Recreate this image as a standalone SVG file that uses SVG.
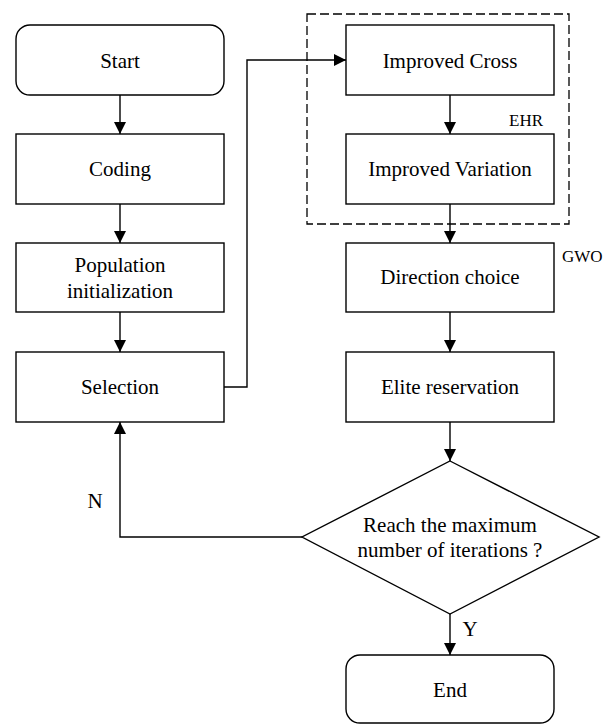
<svg xmlns="http://www.w3.org/2000/svg" width="603" height="724" viewBox="0 0 603 724">
<defs>
<style>
.box{fill:#fff;stroke:#000;stroke-width:1.4}
.t{font-family:"Liberation Serif","Times New Roman",serif;font-size:21px;fill:#000;text-anchor:middle}
.s{font-family:"Liberation Serif","Times New Roman",serif;font-size:17px;fill:#000}
.c{fill:none;stroke:#000;stroke-width:1.4}
</style>
<marker id="ah" viewBox="0 0 12 12" refX="12" refY="6" markerWidth="12" markerHeight="12" markerUnits="userSpaceOnUse" orient="auto">
<path d="M0,0 L12,6 L0,12 Z" fill="#000"/>
</marker>
</defs>
<rect width="603" height="724" fill="#fff"/>
<g id="ehr-group">
<rect x="307" y="14" width="262" height="210" fill="none" stroke="#000" stroke-width="1.3" stroke-dasharray="9,4"/>
<text class="s" x="509" y="126">EHR</text>
</g>
<g id="connectors">
<line class="c" x1="120" y1="95" x2="120" y2="134" marker-end="url(#ah)"/>
<line class="c" x1="120" y1="204" x2="120" y2="243" marker-end="url(#ah)"/>
<line class="c" x1="120" y1="312" x2="120" y2="352" marker-end="url(#ah)"/>
<polyline class="c" points="224,387 247,387 247,60 346,60" marker-end="url(#ah)"/>
<line class="c" x1="450" y1="95" x2="450" y2="134" marker-end="url(#ah)"/>
<line class="c" x1="450" y1="204" x2="450" y2="243" marker-end="url(#ah)"/>
<line class="c" x1="450" y1="312" x2="450" y2="352" marker-end="url(#ah)"/>
<line class="c" x1="450" y1="422" x2="450" y2="461" marker-end="url(#ah)"/>
<polyline class="c" points="302,537 120,537 120,422" marker-end="url(#ah)"/>
<line class="c" x1="450" y1="614" x2="450" y2="655" marker-end="url(#ah)"/>
<text class="t" x="95" y="508">N</text>
<text class="t" x="470" y="636">Y</text>
</g>
<g id="start"><rect class="box" x="16" y="25" width="208" height="70" rx="14"/><text class="t" x="120" y="68">Start</text></g>
<g id="coding"><rect class="box" x="16" y="134" width="208" height="70"/><text class="t" x="120" y="176">Coding</text></g>
<g id="population"><rect class="box" x="16" y="243" width="208" height="69"/><text class="t" x="120" y="272">Population</text><text class="t" x="120" y="298">initialization</text></g>
<g id="selection"><rect class="box" x="16" y="352" width="208" height="70"/><text class="t" x="120" y="394">Selection</text></g>
<g id="improved-cross"><rect class="box" x="346" y="25" width="208" height="70"/><text class="t" x="450" y="68">Improved Cross</text></g>
<g id="improved-variation"><rect class="box" x="346" y="134" width="208" height="70"/><text class="t" x="450" y="176">Improved Variation</text></g>
<g id="direction-choice"><rect class="box" x="346" y="243" width="208" height="69"/><text class="s" x="562" y="262">GWO</text><text class="t" x="450" y="284">Direction choice</text></g>
<g id="elite-reservation"><rect class="box" x="346" y="352" width="208" height="70"/><text class="t" x="450" y="394">Elite reservation</text></g>
<g id="decision"><polygon class="box" points="450,461 599,537 450,614 302,537"/><text class="t" x="450" y="532">Reach the maximum</text><text class="t" x="450" y="557">number of iterations ?</text></g>
<g id="end"><rect class="box" x="346" y="655" width="208" height="68" rx="14"/><text class="t" x="450" y="697">End</text></g>
</svg>
